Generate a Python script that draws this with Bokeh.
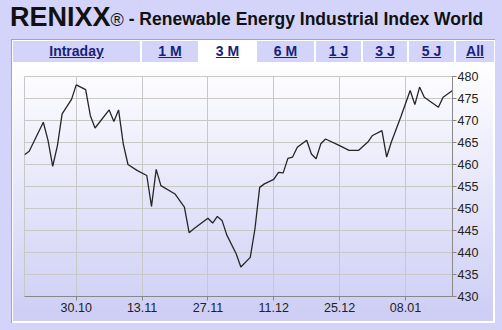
import pandas as pd
from bokeh.plotting import figure
from bokeh.models import (ColumnDataSource, Range1d, FixedTicker,
                          DatetimeTickFormatter, Div)
from bokeh.layouts import column
from bokeh.embed import file_html
from bokeh.resources import INLINE

# ---------------- data ----------------
dates = [
    "2010-10-19", "2010-10-20", "2010-10-23", "2010-10-24", "2010-10-25",
    "2010-10-26", "2010-10-27", "2010-10-29", "2010-10-30", "2010-11-01",
    "2010-11-02", "2010-11-03", "2010-11-06", "2010-11-07", "2010-11-08",
    "2010-11-09", "2010-11-10", "2010-11-12", "2010-11-14", "2010-11-15",
    "2010-11-16", "2010-11-17", "2010-11-20", "2010-11-21", "2010-11-22",
    "2010-11-23", "2010-11-24", "2010-11-27", "2010-11-28", "2010-11-29",
    "2010-11-30", "2010-12-01", "2010-12-03", "2010-12-04", "2010-12-06",
    "2010-12-07", "2010-12-08", "2010-12-09", "2010-12-11", "2010-12-12",
    "2010-12-13", "2010-12-14", "2010-12-15", "2010-12-16", "2010-12-18",
    "2010-12-19", "2010-12-20", "2010-12-21", "2010-12-22", "2010-12-25",
    "2010-12-27", "2010-12-29", "2010-12-31", "2011-01-01", "2011-01-03",
    "2011-01-04", "2011-01-05", "2011-01-07", "2011-01-09", "2011-01-10",
    "2011-01-11", "2011-01-12", "2011-01-15", "2011-01-16", "2011-01-18",
]
values = [
    462.2, 463.0, 469.6, 465.5, 459.6,
    464.3, 471.5, 474.8, 478.1, 477.0,
    471.1, 468.3, 472.4, 469.8, 472.4,
    464.7, 460.0, 458.6, 457.5, 450.5,
    458.9, 455.2, 453.3, 451.8, 450.3,
    444.5, 445.4, 447.8, 446.7, 448.2,
    447.3, 444.0, 439.7, 436.7, 438.9,
    445.4, 454.8, 455.6, 456.6, 458.2,
    458.1, 461.4, 461.7, 463.9, 465.5,
    462.4, 461.3, 464.7, 465.8, 464.3,
    463.2, 463.2, 465.1, 466.6, 467.7,
    461.7, 465.1, 470.8, 476.8, 473.6,
    477.6, 475.3, 473.0, 475.3, 476.8,
]
x_tick_dates = ["2010-10-30", "2010-11-13", "2010-11-27",
                "2010-12-11", "2010-12-25", "2011-01-08"]
y_ticks = [430, 435, 440, 445, 450, 455, 460, 465, 470, 475, 480]
tab_labels = ["Intraday", "1 M", "3 M", "6 M", "1 J", "3 J", "5 J", "All"]
selected_tab = "3 M"
title_main = "RENIXX"
title_mark = "\u00ae"
title_rest = " - Renewable Energy Industrial Index World"

# ---------------- styles ----------------
FONT = "Liberation Sans, Arial, sans-serif"
OUTER = "#d4d4fa"
TAB = "#d4d4fa"
BORDER = "#a0a0d0"
LINK = "#17237a"

# tab cell geometry (left, right) in page pixels
tab_cells = [(13, 140), (142, 198), (198, 257), (257, 314),
             (316, 361), (363, 407), (409, 454), (456, 494)]

cells_html = ""
for (l, r), lab in zip(tab_cells, tab_labels):
    bg = "#ffffff" if lab == selected_tab else TAB
    cells_html += (
        f'<div style="position:absolute;left:{l}px;top:41px;width:{r-l}px;height:21px;'
        f'background:{bg};text-align:center;line-height:20px;font-size:14px;'
        f'font-weight:bold;color:{LINK};text-decoration:underline;'
        f'white-space:nowrap;">{lab}</div>'
    )

header_html = (
    f'<div style="position:relative;width:502px;height:62px;overflow:hidden;'
    f'background:{OUTER};font-family:{FONT};">'
    f'<div style="position:absolute;left:10px;top:4px;white-space:nowrap;color:#111;'
    f'font-size:27px;line-height:27px;">'
    f'<span style="font-weight:bold;">{title_main}</span>'
    f'<span style="font-size:18px;">{title_mark}</span>'
    f'<span style="font-size:17.5px;font-weight:bold;position:relative;top:-1px;">{title_rest}</span>'
    f'</div>'
    f'<div style="position:absolute;left:11px;top:39px;width:484px;height:23px;'
    f'background:#ffffff;"></div>'
    f'<div style="position:absolute;left:11px;top:39px;width:484px;height:1px;'
    f'background:{BORDER};"></div>'
    f'<div style="position:absolute;left:11px;top:39px;width:1px;height:23px;'
    f'background:{BORDER};"></div>'
    f'{cells_html}'
    f'</div>'
)

header = Div(text=header_html, width=502, height=62, margin=0)

# ---------------- chart ----------------
df = pd.DataFrame({"date": pd.to_datetime(dates), "value": values})
source = ColumnDataSource(df)

p = figure(width=502, height=268, output_backend="svg", toolbar_location=None,
           x_axis_type="datetime", y_axis_location="right",
           x_range=Range1d(pd.Timestamp("2010-10-19"), pd.Timestamp("2011-01-18")),
           y_range=Range1d(430, 480),
           min_border_left=24, min_border_right=50,
           min_border_top=14, min_border_bottom=34,
           border_fill_color=None, background_fill_color=None,
           outline_line_color="#c8c8c8", margin=0,
           styles={"background":
                   f"linear-gradient({BORDER},{BORDER}) 11px 0px / 1px 261px no-repeat, "
                   "linear-gradient(to bottom, #ffffff 0%, #cdcdf5 100%) 13px 0px / 480px 259px no-repeat, "
                   "linear-gradient(#ffffff,#ffffff) 11px 0px / 484px 261px no-repeat, "
                   f"{OUTER}"})

p.line(x="date", y="value", source=source, line_color="#262626", line_width=1.3)

xt = [pd.Timestamp(d).value // 10**6 for d in x_tick_dates]
p.xaxis.ticker = FixedTicker(ticks=xt)
fmt = "%d.%m"
p.xaxis.formatter = DatetimeTickFormatter(
    microseconds=fmt, milliseconds=fmt, seconds=fmt, minsec=fmt, minutes=fmt,
    hourmin=fmt, hours=fmt, days=fmt, months=fmt, years=fmt)
p.yaxis.ticker = FixedTicker(ticks=y_ticks)

for ax in (p.xaxis, p.yaxis):
    ax.axis_line_color = "#888888"
    ax.major_tick_line_color = "#888888"
    ax.minor_tick_line_color = None
    ax.major_tick_in = 0
    ax.major_tick_out = 4
    ax.major_label_text_font = FONT
    ax.major_label_text_font_size = "12.5px"
    ax.major_label_text_color = "#222222"
p.xaxis.major_label_standoff = 2
p.yaxis.major_label_standoff = 1

p.xgrid.grid_line_color = "#c8c8c8"
p.ygrid.grid_line_color = "#c8c8c8"
p.xgrid.grid_line_width = 1
p.ygrid.grid_line_width = 1

layout = column(header, p, width=502, height=330, spacing=0, margin=0,
                styles={"background": OUTER})

open("out.html", "w").write(file_html(layout, INLINE))
